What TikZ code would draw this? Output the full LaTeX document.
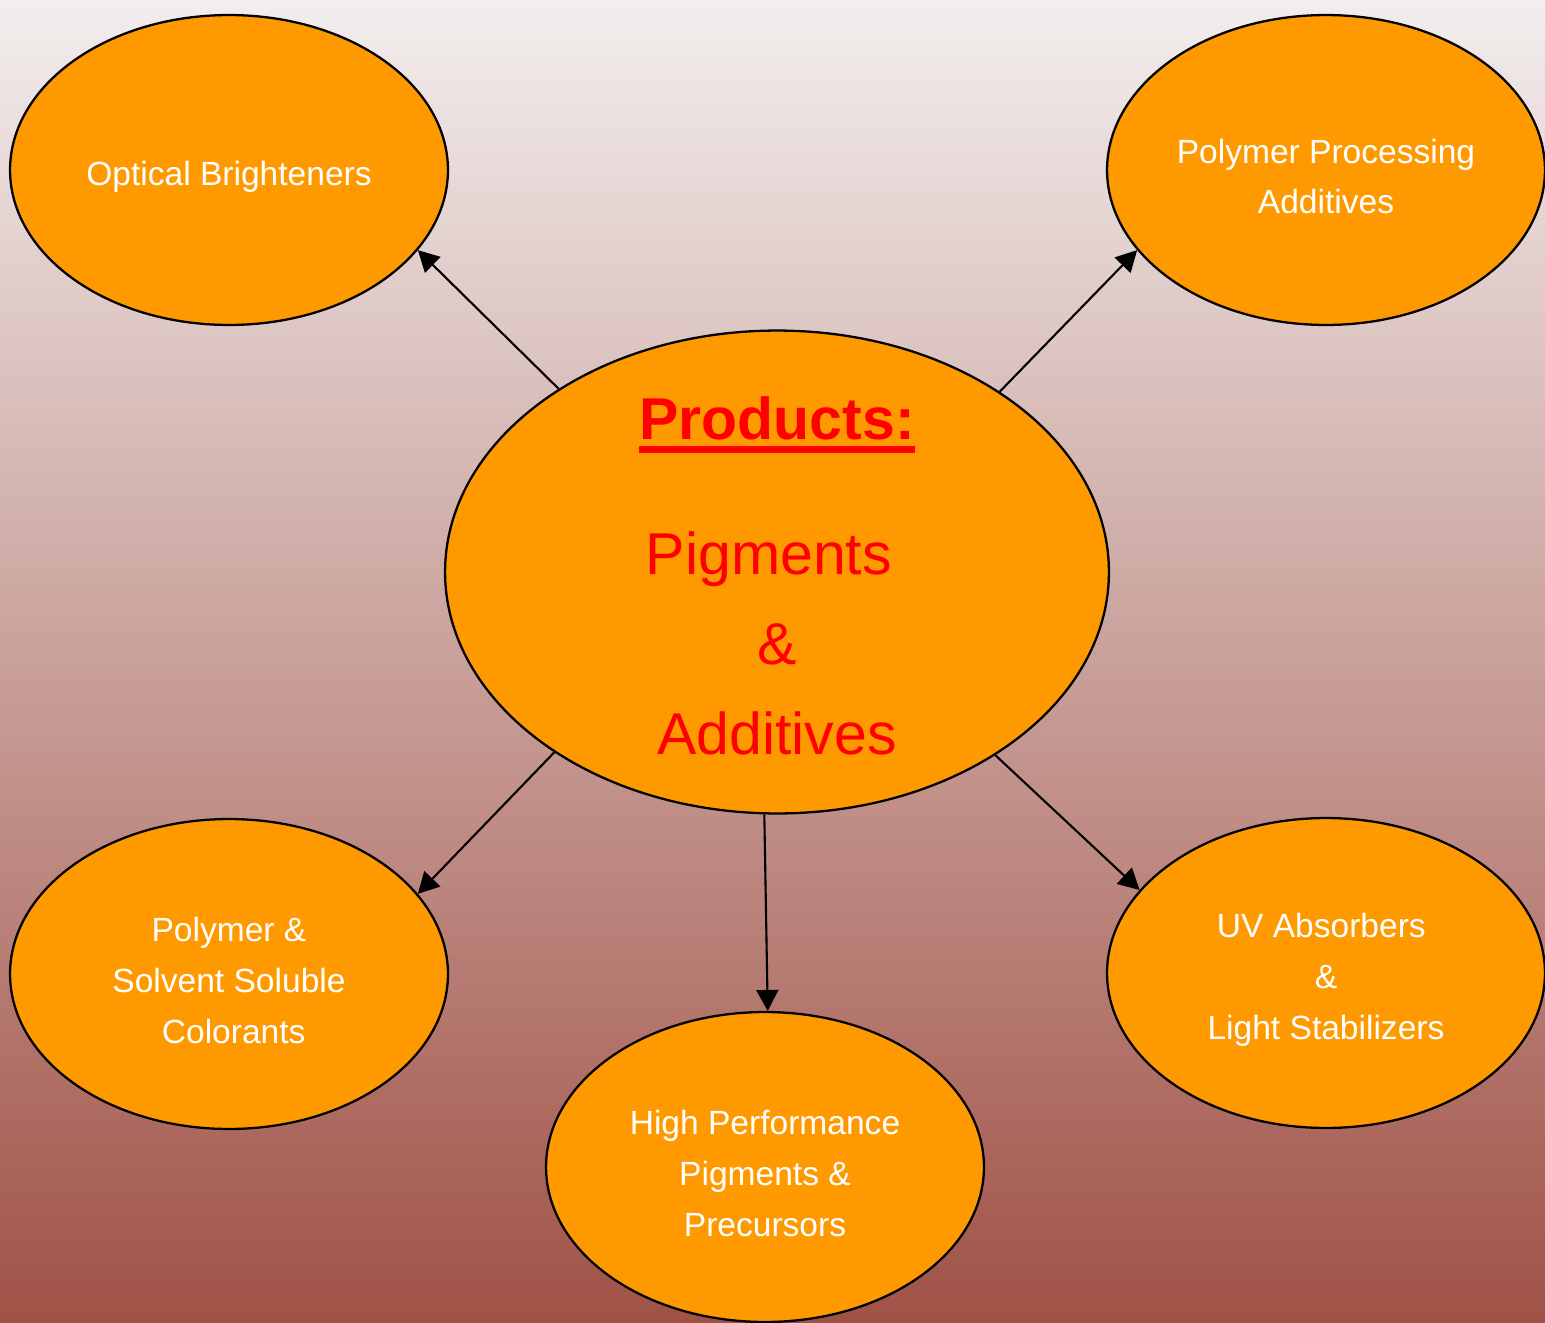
\documentclass[tikz,border=0pt]{standalone}
\usepackage{fontspec}
\setmainfont{Liberation Sans}
\usetikzlibrary{shapes.geometric,arrows.meta}
\definecolor{bgtop}{RGB}{242,238,238}
\definecolor{bgbottom}{RGB}{160,82,70}
\definecolor{bubble}{RGB}{255,153,0}
\newcommand{\produl}[1]{\setbox0\hbox{#1}\rlap{\rule[-0.26cm]{\wd0}{0.14cm}}\box0}
\tikzset{
    leaf/.style={draw, ellipse, line width=1.3pt, fill=bubble,
        minimum width=8.76cm, minimum height=6.2cm, inner sep=0pt},
    leaftext/.style={text=white, align=center, yshift=-0.13cm,
        font=\fontsize{19.1}{29}\selectfont},
    hub/.style={draw, ellipse, line width=1.3pt, fill=bubble,
        minimum width=13.28cm, minimum height=9.66cm, inner sep=0pt},
    hubtext/.style={text=red, align=center, yshift=-0.08cm,
        font=\fontsize{33.6}{51.2}\selectfont},
    link/.style={line width=1.2pt, -{Triangle[length=0.42cm,width=0.44cm]}}
}
\begin{document}
\begin{tikzpicture}[x=0.02cm, y=-0.02cm]
    \useasboundingbox (0,0) rectangle (1545,1322);
    \fill[top color=bgtop, bottom color=bgbottom] (0,0) rectangle (1545,1322);
    % centre
    \node [hub, label={[hubtext]center:\textbf{\produl{Products:}}\\[25.6pt] Pigments\kern0.28em\\ \&\\ Additives}] (prod) at (777,572) {};
    % around
    \node [leaf, label={[leaftext]center:Optical Brighteners}] (optical) at (229,170) {};
    \node [leaf, label={[leaftext]center:Polymer Processing\\ Additives}] (processing) at (1326,170) {};
    \node [leaf, label={[leaftext]center:Polymer \&\\ Solvent Soluble\\ \kern0.28em Colorants}] (colorants) at (229,974) {};
    \node [leaf, label={[leaftext]center:High Performance\\ Pigments \&\\ Precursors}] (hpp) at (765,1167) {};
    \node [leaf, label={[leaftext]center:UV Absorbers\kern0.28em\\ \&\\ Light Stabilizers}] (uv) at (1326,973) {};
    % arrows
    \draw [link] (prod.140) -- (optical.337);
    \draw [link] (prod.39) -- (processing.203);
    \draw [link] (prod.219) -- (colorants.23);
    \draw [link] (prod.267) -- (hpp.89);
    \draw [link] (prod.320) -- (uv.156);
\end{tikzpicture}
\end{document}
